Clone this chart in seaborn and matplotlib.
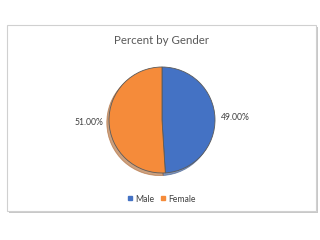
import matplotlib
matplotlib.use("Agg")
import matplotlib.pyplot as plt
from matplotlib.patches import Rectangle
import seaborn as sns

categories = ["Male", "Female"]
values = [49.0, 51.0]
colors = ["#4472C4", "#F58B3A"]
title = "Percent by Gender"

sns.set_theme(style="white")
plt.rcParams['font.family'] = ['Lato', 'DejaVu Sans']

fig = plt.figure(figsize=(3.2, 2.4), dpi=100)
fig.patch.set_facecolor("white")

W, H = 320, 240
def fx(x): return x / W
def fy(y): return 1 - y / H

# chart box shadow and box
fig.patches.append(Rectangle((fx(8.5), fy(212.5)), fx(309), 186 / H, transform=fig.transFigure,
                             facecolor="#c8c8c8", edgecolor="none", zorder=0))
fig.patches.append(Rectangle((fx(7), fy(211)), fx(309), 186 / H, transform=fig.transFigure,
                             facecolor="white", edgecolor="#d0d0d0", linewidth=0.8, zorder=1))

cx, cy, r = 162, 120, 53
ax = fig.add_axes([fx(cx - r), fy(cy + r), 2 * r / W, 2 * r / H])
ax.set_zorder(2)
wedges, texts, autotexts = ax.pie(values, colors=colors, startangle=90, counterclock=False,
                                  autopct=lambda p: f"{p:.2f}%", pctdistance=1.38,
                                  shadow={'ox': -0.03, 'oy': -0.035, 'shade': 0.3, 'alpha': 0.6},
                                  wedgeprops=dict(edgecolor="#5a5a5a", linewidth=0.6),
                                  textprops=dict(fontsize=6.2, color="#404040"))
ax.set_aspect("equal")
ax.set_xlim(-1.0, 1.0)
ax.set_ylim(-1.0, 1.0)
ax.axis("off")

fig.text(fx(161), fy(41), title, ha="center", va="center", fontsize=8.3, color="#595959", zorder=3)

handles = [plt.Line2D([], [], marker="s", linestyle="none", markersize=3, color=c) for c in colors]
fig.legend(handles, categories, loc="center", bbox_to_anchor=(fx(161), fy(199)), ncol=2,
           frameon=False, fontsize=6.2, handletextpad=0.2, columnspacing=0.6,
           handlelength=0.8, labelcolor="#404040")

fig.savefig("out.png", dpi=100, facecolor="white")
